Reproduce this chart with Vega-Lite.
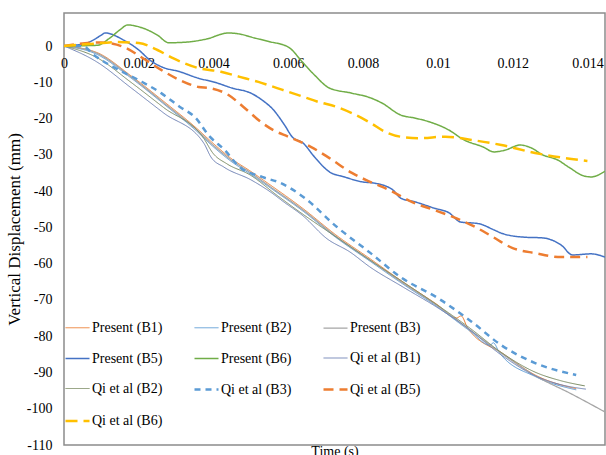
{
  "$schema": "https://vega.github.io/schema/vega-lite/v6.json",
  "width": 541,
  "height": 432,
  "autosize": "none",
  "padding": {"left": 64, "top": 13, "right": 1, "bottom": 10},
  "background": "white",
  "config": {
    "view": {"stroke": "#8c8c8c", "strokeWidth": 1.5},
    "font": "Liberation Serif"
  },
  "datasets": {
    "d": [
      {"s":"Present (B1)","t":0,"v":0},{"s":"Present (B1)","t":0.00088,"v":-1.8},{"s":"Present (B1)","t":0.00179,"v":-8.2},{"s":"Present (B1)","t":0.00267,"v":-15.3},{"s":"Present (B1)","t":0.00356,"v":-22.8},{"s":"Present (B1)","t":0.00393,"v":-26.3},{"s":"Present (B1)","t":0.00447,"v":-31},{"s":"Present (B1)","t":0.005,"v":-34.6},{"s":"Present (B1)","t":0.00553,"v":-38.4},{"s":"Present (B1)","t":0.00639,"v":-44.8},{"s":"Present (B1)","t":0.0073,"v":-52.3},{"s":"Present (B1)","t":0.00818,"v":-58.6},{"s":"Present (B1)","t":0.00906,"v":-65},{"s":"Present (B1)","t":0.00997,"v":-71.2},{"s":"Present (B1)","t":0.0105,"v":-75},{"s":"Present (B1)","t":0.01062,"v":-74.4},{"s":"Present (B1)","t":0.0108,"v":-77.8},{"s":"Present (B1)","t":0.01174,"v":-84.8},{"s":"Present (B1)","t":0.01262,"v":-90.8},{"s":"Present (B1)","t":0.0137,"v":-94.5},
      {"s":"Present (B2)","t":0,"v":0},{"s":"Present (B2)","t":0.00088,"v":-2.3},{"s":"Present (B2)","t":0.00179,"v":-8.8},{"s":"Present (B2)","t":0.00267,"v":-16},{"s":"Present (B2)","t":0.00356,"v":-23.6},{"s":"Present (B2)","t":0.00393,"v":-27.2},{"s":"Present (B2)","t":0.00447,"v":-31.8},{"s":"Present (B2)","t":0.005,"v":-35.4},{"s":"Present (B2)","t":0.00553,"v":-39.2},{"s":"Present (B2)","t":0.00639,"v":-45.5},{"s":"Present (B2)","t":0.0073,"v":-53},{"s":"Present (B2)","t":0.00818,"v":-59.3},{"s":"Present (B2)","t":0.00906,"v":-65.6},{"s":"Present (B2)","t":0.00997,"v":-71.8},{"s":"Present (B2)","t":0.01086,"v":-78.6},{"s":"Present (B2)","t":0.0114,"v":-82.5},{"s":"Present (B2)","t":0.01148,"v":-81.8},{"s":"Present (B2)","t":0.01165,"v":-84.6},{"s":"Present (B2)","t":0.01262,"v":-91.2},{"s":"Present (B2)","t":0.0137,"v":-94.8},
      {"s":"Present (B3)","t":0,"v":0},{"s":"Present (B3)","t":0.00088,"v":-2},{"s":"Present (B3)","t":0.00179,"v":-8.5},{"s":"Present (B3)","t":0.00267,"v":-15.7},{"s":"Present (B3)","t":0.00356,"v":-23.2},{"s":"Present (B3)","t":0.00393,"v":-26.8},{"s":"Present (B3)","t":0.00447,"v":-31.4},{"s":"Present (B3)","t":0.005,"v":-35},{"s":"Present (B3)","t":0.00553,"v":-38.9},{"s":"Present (B3)","t":0.00639,"v":-45.2},{"s":"Present (B3)","t":0.0073,"v":-52.7},{"s":"Present (B3)","t":0.00818,"v":-59},{"s":"Present (B3)","t":0.00906,"v":-65.3},{"s":"Present (B3)","t":0.00997,"v":-71.5},{"s":"Present (B3)","t":0.01086,"v":-78.3},{"s":"Present (B3)","t":0.01174,"v":-85},{"s":"Present (B3)","t":0.01262,"v":-91},{"s":"Present (B3)","t":0.01353,"v":-95.7},{"s":"Present (B3)","t":0.01447,"v":-100.9},
      {"s":"Present (B5)","t":0,"v":0},{"s":"Present (B5)","t":0.0006,"v":0.8},{"s":"Present (B5)","t":0.001,"v":3},{"s":"Present (B5)","t":0.0011,"v":3.6},{"s":"Present (B5)","t":0.0016,"v":1.6},{"s":"Present (B5)","t":0.002,"v":-1.1},{"s":"Present (B5)","t":0.0023,"v":-3.9},{"s":"Present (B5)","t":0.0026,"v":-5.7},{"s":"Present (B5)","t":0.0031,"v":-7.1},{"s":"Present (B5)","t":0.0036,"v":-8.9},{"s":"Present (B5)","t":0.004,"v":-9.9},{"s":"Present (B5)","t":0.0045,"v":-11.6},{"s":"Present (B5)","t":0.005,"v":-13},{"s":"Present (B5)","t":0.0053,"v":-14.9},{"s":"Present (B5)","t":0.0056,"v":-17.6},{"s":"Present (B5)","t":0.0059,"v":-21.8},{"s":"Present (B5)","t":0.0061,"v":-25},{"s":"Present (B5)","t":0.0064,"v":-26.8},{"s":"Present (B5)","t":0.0067,"v":-30.6},{"s":"Present (B5)","t":0.0071,"v":-34.7},{"s":"Present (B5)","t":0.0075,"v":-36.1},{"s":"Present (B5)","t":0.008,"v":-37.5},{"s":"Present (B5)","t":0.0083,"v":-37.8},{"s":"Present (B5)","t":0.0088,"v":-39.7},{"s":"Present (B5)","t":0.009,"v":-41.9},{"s":"Present (B5)","t":0.0094,"v":-43},{"s":"Present (B5)","t":0.0099,"v":-44.7},{"s":"Present (B5)","t":0.0103,"v":-46},{"s":"Present (B5)","t":0.0106,"v":-48.5},{"s":"Present (B5)","t":0.0111,"v":-49},{"s":"Present (B5)","t":0.0115,"v":-50.7},{"s":"Present (B5)","t":0.0117,"v":-51.6},{"s":"Present (B5)","t":0.0123,"v":-52.7},{"s":"Present (B5)","t":0.0128,"v":-52.9},{"s":"Present (B5)","t":0.0133,"v":-54.9},{"s":"Present (B5)","t":0.0136,"v":-57.6},{"s":"Present (B5)","t":0.0141,"v":-57.3},{"s":"Present (B5)","t":0.01447,"v":-58.2},
      {"s":"Present (B6)","t":0,"v":0},{"s":"Present (B6)","t":0.0009,"v":0.2},{"s":"Present (B6)","t":0.0012,"v":2},{"s":"Present (B6)","t":0.0015,"v":4.5},{"s":"Present (B6)","t":0.0017,"v":5.8},{"s":"Present (B6)","t":0.002,"v":5.3},{"s":"Present (B6)","t":0.0025,"v":3},{"s":"Present (B6)","t":0.0028,"v":0.9},{"s":"Present (B6)","t":0.0033,"v":1.1},{"s":"Present (B6)","t":0.0038,"v":1.9},{"s":"Present (B6)","t":0.0044,"v":3.6},{"s":"Present (B6)","t":0.0047,"v":3.3},{"s":"Present (B6)","t":0.0051,"v":2.2},{"s":"Present (B6)","t":0.0055,"v":1.2},{"s":"Present (B6)","t":0.006,"v":-0.3},{"s":"Present (B6)","t":0.0064,"v":-4.7},{"s":"Present (B6)","t":0.0067,"v":-8},{"s":"Present (B6)","t":0.0071,"v":-11.6},{"s":"Present (B6)","t":0.0077,"v":-13},{"s":"Present (B6)","t":0.0082,"v":-14.3},{"s":"Present (B6)","t":0.0085,"v":-15.7},{"s":"Present (B6)","t":0.009,"v":-19},{"s":"Present (B6)","t":0.0094,"v":-19.9},{"s":"Present (B6)","t":0.0098,"v":-21},{"s":"Present (B6)","t":0.0103,"v":-23.2},{"s":"Present (B6)","t":0.0107,"v":-25.9},{"s":"Present (B6)","t":0.0112,"v":-27.8},{"s":"Present (B6)","t":0.0115,"v":-29.2},{"s":"Present (B6)","t":0.0118,"v":-28.7},{"s":"Present (B6)","t":0.0122,"v":-27.3},{"s":"Present (B6)","t":0.0125,"v":-28.1},{"s":"Present (B6)","t":0.0128,"v":-30},{"s":"Present (B6)","t":0.0132,"v":-31.4},{"s":"Present (B6)","t":0.0135,"v":-33.4},{"s":"Present (B6)","t":0.0139,"v":-35.8},{"s":"Present (B6)","t":0.0141,"v":-36.1},{"s":"Present (B6)","t":0.01447,"v":-34.5},
      {"s":"Qi et al (B1)","t":0,"v":0},{"s":"Qi et al (B1)","t":0.00088,"v":-4.4},{"s":"Qi et al (B1)","t":0.00179,"v":-11.5},{"s":"Qi et al (B1)","t":0.00267,"v":-18.5},{"s":"Qi et al (B1)","t":0.00374,"v":-26.8},{"s":"Qi et al (B1)","t":0.00393,"v":-30.6},{"s":"Qi et al (B1)","t":0.00428,"v":-33.4},{"s":"Qi et al (B1)","t":0.005,"v":-36.9},{"s":"Qi et al (B1)","t":0.00553,"v":-40.3},{"s":"Qi et al (B1)","t":0.00588,"v":-43},{"s":"Qi et al (B1)","t":0.00639,"v":-46.8},{"s":"Qi et al (B1)","t":0.00703,"v":-53.1},{"s":"Qi et al (B1)","t":0.00765,"v":-56.8},{"s":"Qi et al (B1)","t":0.00818,"v":-60.9},{"s":"Qi et al (B1)","t":0.00906,"v":-66.4},{"s":"Qi et al (B1)","t":0.00997,"v":-72},{"s":"Qi et al (B1)","t":0.01067,"v":-76.8},{"s":"Qi et al (B1)","t":0.01174,"v":-85.5},{"s":"Qi et al (B1)","t":0.01262,"v":-91},{"s":"Qi et al (B1)","t":0.01326,"v":-93.3},{"s":"Qi et al (B1)","t":0.01396,"v":-94.6},
      {"s":"Qi et al (B2)","t":0,"v":0},{"s":"Qi et al (B2)","t":0.00088,"v":-3.2},{"s":"Qi et al (B2)","t":0.00179,"v":-10},{"s":"Qi et al (B2)","t":0.00267,"v":-17},{"s":"Qi et al (B2)","t":0.00374,"v":-25.5},{"s":"Qi et al (B2)","t":0.00398,"v":-29.5},{"s":"Qi et al (B2)","t":0.00436,"v":-32.5},{"s":"Qi et al (B2)","t":0.00497,"v":-35.5},{"s":"Qi et al (B2)","t":0.0057,"v":-41.2},{"s":"Qi et al (B2)","t":0.00631,"v":-45.8},{"s":"Qi et al (B2)","t":0.0073,"v":-52.8},{"s":"Qi et al (B2)","t":0.00818,"v":-59},{"s":"Qi et al (B2)","t":0.00906,"v":-65},{"s":"Qi et al (B2)","t":0.00997,"v":-71.3},{"s":"Qi et al (B2)","t":0.01086,"v":-77.8},{"s":"Qi et al (B2)","t":0.01174,"v":-84.8},{"s":"Qi et al (B2)","t":0.01262,"v":-90},{"s":"Qi et al (B2)","t":0.01326,"v":-92.2},{"s":"Qi et al (B2)","t":0.01393,"v":-93.7},
      {"s":"Qi et al (B3)","t":0,"v":0},{"s":"Qi et al (B3)","t":0.0005,"v":0},{"s":"Qi et al (B3)","t":0.0008,"v":-2.5},{"s":"Qi et al (B3)","t":0.0013,"v":-5.7},{"s":"Qi et al (B3)","t":0.002,"v":-9.4},{"s":"Qi et al (B3)","t":0.0026,"v":-13},{"s":"Qi et al (B3)","t":0.0031,"v":-16.8},{"s":"Qi et al (B3)","t":0.0035,"v":-19.6},{"s":"Qi et al (B3)","t":0.0039,"v":-25},{"s":"Qi et al (B3)","t":0.0043,"v":-28.7},{"s":"Qi et al (B3)","t":0.0047,"v":-33.4},{"s":"Qi et al (B3)","t":0.0053,"v":-36.1},{"s":"Qi et al (B3)","t":0.0058,"v":-37.8},{"s":"Qi et al (B3)","t":0.0064,"v":-41.6},{"s":"Qi et al (B3)","t":0.0073,"v":-49.9},{"s":"Qi et al (B3)","t":0.0082,"v":-57.1},{"s":"Qi et al (B3)","t":0.009,"v":-63.7},{"s":"Qi et al (B3)","t":0.01,"v":-69.5},{"s":"Qi et al (B3)","t":0.0109,"v":-76},{"s":"Qi et al (B3)","t":0.0117,"v":-82.5},{"s":"Qi et al (B3)","t":0.0126,"v":-87.4},{"s":"Qi et al (B3)","t":0.0137,"v":-90.7},
      {"s":"Qi et al (B5)","t":0,"v":0},{"s":"Qi et al (B5)","t":0.001,"v":1},{"s":"Qi et al (B5)","t":0.0012,"v":0.8},{"s":"Qi et al (B5)","t":0.0016,"v":-0.3},{"s":"Qi et al (B5)","t":0.0021,"v":-3.3},{"s":"Qi et al (B5)","t":0.0026,"v":-6.6},{"s":"Qi et al (B5)","t":0.0031,"v":-9.4},{"s":"Qi et al (B5)","t":0.0036,"v":-11.3},{"s":"Qi et al (B5)","t":0.0039,"v":-11.6},{"s":"Qi et al (B5)","t":0.0044,"v":-13.5},{"s":"Qi et al (B5)","t":0.0048,"v":-16.8},{"s":"Qi et al (B5)","t":0.0053,"v":-21.2},{"s":"Qi et al (B5)","t":0.0056,"v":-23.2},{"s":"Qi et al (B5)","t":0.006,"v":-25},{"s":"Qi et al (B5)","t":0.0064,"v":-26.8},{"s":"Qi et al (B5)","t":0.0066,"v":-27.8},{"s":"Qi et al (B5)","t":0.0071,"v":-30.9},{"s":"Qi et al (B5)","t":0.0077,"v":-35},{"s":"Qi et al (B5)","t":0.0082,"v":-37.5},{"s":"Qi et al (B5)","t":0.0087,"v":-39.7},{"s":"Qi et al (B5)","t":0.0093,"v":-43},{"s":"Qi et al (B5)","t":0.0099,"v":-45.2},{"s":"Qi et al (B5)","t":0.0104,"v":-47.1},{"s":"Qi et al (B5)","t":0.011,"v":-49.9},{"s":"Qi et al (B5)","t":0.0114,"v":-52.2},{"s":"Qi et al (B5)","t":0.012,"v":-55.7},{"s":"Qi et al (B5)","t":0.0126,"v":-57.1},{"s":"Qi et al (B5)","t":0.0133,"v":-58.2},{"s":"Qi et al (B5)","t":0.014,"v":-58.2},
      {"s":"Qi et al (B6)","t":0,"v":0},{"s":"Qi et al (B6)","t":0.001,"v":0.8},{"s":"Qi et al (B6)","t":0.0014,"v":1.1},{"s":"Qi et al (B6)","t":0.002,"v":0.8},{"s":"Qi et al (B6)","t":0.0025,"v":-1.1},{"s":"Qi et al (B6)","t":0.0029,"v":-3.3},{"s":"Qi et al (B6)","t":0.0036,"v":-6.1},{"s":"Qi et al (B6)","t":0.0042,"v":-7.1},{"s":"Qi et al (B6)","t":0.0047,"v":-8.5},{"s":"Qi et al (B6)","t":0.0052,"v":-9.9},{"s":"Qi et al (B6)","t":0.0057,"v":-11.6},{"s":"Qi et al (B6)","t":0.0064,"v":-14},{"s":"Qi et al (B6)","t":0.0068,"v":-15.4},{"s":"Qi et al (B6)","t":0.0073,"v":-16.8},{"s":"Qi et al (B6)","t":0.0082,"v":-21.2},{"s":"Qi et al (B6)","t":0.0086,"v":-23.7},{"s":"Qi et al (B6)","t":0.009,"v":-25},{"s":"Qi et al (B6)","t":0.0095,"v":-25.4},{"s":"Qi et al (B6)","t":0.0102,"v":-25},{"s":"Qi et al (B6)","t":0.0109,"v":-25.9},{"s":"Qi et al (B6)","t":0.0117,"v":-27.3},{"s":"Qi et al (B6)","t":0.0126,"v":-29.5},{"s":"Qi et al (B6)","t":0.0134,"v":-30.9},{"s":"Qi et al (B6)","t":0.014,"v":-31.7}
    ]
  },
  "data": {"name": "d"},
  "mark": {"type": "line", "interpolate": "monotone", "clip": true},
  "encoding": {
    "x": {
      "field": "t", "type": "quantitative",
      "scale": {"domain": [0, 0.01447], "nice": false, "zero": false},
      "axis": {
        "values": [0, 0.002, 0.004, 0.006, 0.008, 0.01, 0.012, 0.014],
        "labelExpr": "'' + datum.value",
        "domain": false, "ticks": false, "tickSize": 0, "grid": false,
        "offset": -399, "labelPadding": 10, "labelFlush": false, "labelOverlap": false,
        "labelFont": "Liberation Serif", "labelFontSize": 14, "labelColor": "#000000",
        "title": "Time (s)", "titleFont": "Liberation Serif", "titleFontSize": 14,
        "titleFontWeight": "normal", "titleColor": "#000000", "titleY": 398, "titleBaseline": "top"
      }
    },
    "y": {
      "field": "v", "type": "quantitative",
      "scale": {"domain": [-110, 9.1], "nice": false, "zero": false},
      "axis": {
        "values": [-110, -100, -90, -80, -70, -60, -50, -40, -30, -20, -10, 0],
        "labelExpr": "'' + datum.value",
        "domain": false, "ticks": false, "tickSize": 0, "grid": false,
        "labelPadding": 12, "labelFont": "Liberation Serif", "labelFontSize": 14, "labelColor": "#000000",
        "title": "Vertical Displacement (mm)", "titleFont": "Liberation Serif", "titleFontSize": 17,
        "titleFontWeight": "normal", "titleColor": "#000000", "titlePadding": 3
      }
    },
    "color": {
      "field": "s", "type": "nominal",
      "scale": {
        "domain": ["Present (B1)", "Present (B2)", "Present (B3)", "Present (B5)", "Present (B6)", "Qi et al (B1)", "Qi et al (B2)", "Qi et al (B3)", "Qi et al (B5)", "Qi et al (B6)"],
        "range": ["#ED7D31", "#5B9BD5", "#A5A5A5", "#4472C4", "#70AD47", "#6F82B4", "#7A8B63", "#5B9BD5", "#ED7D31", "#FFC000"]
      },
      "legend": {
        "orient": "none", "direction": "horizontal", "legendX": 0, "legendY": 302, "columns": 3, "title": null,
        "symbolType": "stroke", "symbolSize": 576, "labelFont": "Liberation Serif", "labelFontSize": 14,
        "labelColor": "#000000", "labelOffset": 1, "columnPadding": 26, "rowPadding": 10.5, "padding": 0, "labelLimit": 200
      }
    },
    "strokeDash": {
      "field": "s", "type": "nominal",
      "scale": {
        "domain": ["Present (B1)", "Present (B2)", "Present (B3)", "Present (B5)", "Present (B6)", "Qi et al (B1)", "Qi et al (B2)", "Qi et al (B3)", "Qi et al (B5)", "Qi et al (B6)"],
        "range": [[1, 0], [1, 0], [1, 0], [1, 0], [1, 0], [1, 0], [1, 0], [6, 5], [10, 6], [12, 6]]
      }
    },
    "strokeWidth": {
      "field": "s", "type": "nominal",
      "scale": {
        "type": "ordinal",
        "domain": ["Present (B1)", "Present (B2)", "Present (B3)", "Present (B5)", "Present (B6)", "Qi et al (B1)", "Qi et al (B2)", "Qi et al (B3)", "Qi et al (B5)", "Qi et al (B6)"],
        "range": [1, 1, 1.25, 1.5, 1.5, 1, 1, 2.5, 2.5, 2.5]
      }
    }
  }
}
